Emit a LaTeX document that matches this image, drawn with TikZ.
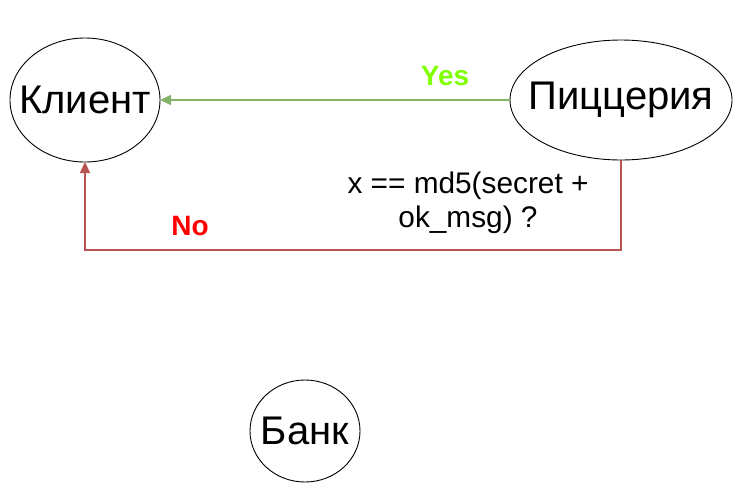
\documentclass[tikz,border=0pt]{standalone}
\usepackage{fontspec}
\setmainfont{Liberation Sans}
\usetikzlibrary{arrows.meta,shapes.geometric}
\definecolor{gline}{HTML}{82B366}
\definecolor{rline}{HTML}{B85450}
\definecolor{ytext}{HTML}{80FF00}
\definecolor{ntext}{HTML}{FF0000}
\begin{document}
\begin{tikzpicture}[x=1pt,y=-1pt,
  entity/.style={draw=black, line width=0.9pt, ellipse, inner sep=0pt, outer sep=0pt},
  etext/.style={font=\fontsize{40}{46}\selectfont},
  conn/.style={line width=1.5pt, -{Triangle[length=11pt,width=10pt]}},
  lbl/.style={font=\fontsize{28}{32}\selectfont\bfseries}]
\useasboundingbox (0,0) rectangle (751,501);
\node[entity, minimum width=150pt, minimum height=124pt] (klient) at (85,100) {};
\node[etext] (klientt) at (klient.center) {Клиент};
\node[entity, minimum width=222pt, minimum height=120pt] (pizza) at (621,100) {};
\node[etext] (pizzat) at (pizza.center) {Пиццерия};
\node[entity, minimum width=110pt, minimum height=102pt] (bank) at (305,431) {};
\node[etext] (bankt) at (bank.center) {Банк};
\draw[conn, gline] (pizza.west) -- (klient.east);
\draw[conn, rline] (pizza.south) -- (621,250) -- (85,250) -- (klient.south);
\node[lbl, text=ytext] (yes) at (445,76) {Yes};
\node[lbl, text=ntext] (no) at (190,226) {No};
\node[align=center, font=\fontsize{29.8}{34}\selectfont] (cond) at (468,203) {x == md5(secret +\\ok\_msg) ?};
\end{tikzpicture}
\end{document}
